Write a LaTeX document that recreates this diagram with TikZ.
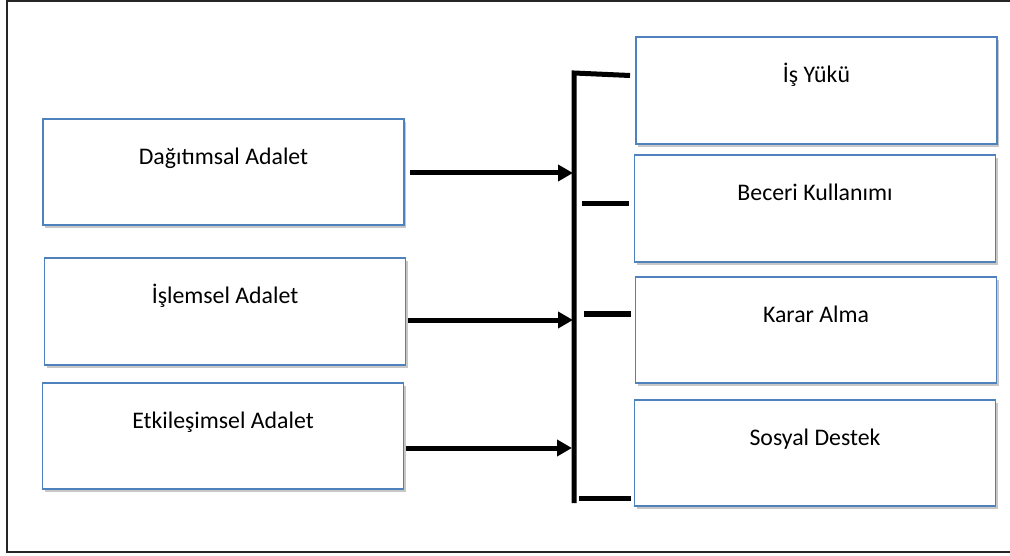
\documentclass[tikz,border=0pt]{standalone}
\usepackage{fontspec}
\setmainfont{Carlito}
\usetikzlibrary{arrows.meta,shadows}
\definecolor{boxblue}{RGB}{79,129,189}
\begin{document}
\begin{tikzpicture}[x=1pt,y=-1pt,
  box/.style={draw=boxblue,line width=1.6pt,fill=white,minimum width=361pt,minimum height=106pt,inner sep=0pt,
    drop shadow={shadow xshift=2pt,shadow yshift=-3pt,opacity=0.22,fill=black}},
  lbl/.style={font=\fontsize{23.8}{28}\selectfont,anchor=base,inner sep=0pt},
  conn/.style={line width=5pt},
  arr/.style={conn,-{Triangle[length=15pt,width=16pt]}}]
\useasboundingbox (0,0) rectangle (1010,556);
\fill[white] (0,0) rectangle (1010,556);
% frame
\draw[line width=1.8pt,black!85] (7,1) rectangle (1020,552);
% left boxes
\node[box] (d1) at (223.5,172) {};
\node[box,minimum height=107pt] (d2) at (225,311.5) {};
\node[box] (d3) at (223,436) {};
% right boxes
\node[box,minimum height=107pt] (r1) at (816.5,90.5) {};
\node[box,minimum height=107pt] (r2) at (815,208.5) {};
\node[box] (r3) at (816,330) {};
\node[box] (r4) at (815,453) {};
% labels
\node[lbl] (td1) at ([yshift=-46.5pt]d1.north) {Dağıtımsal Adalet};
\node[lbl] (td2) at ([yshift=-46.5pt]d2.north) {İşlemsel Adalet};
\node[lbl] (td3) at ([yshift=-46.5pt]d3.north) {Etkileşimsel Adalet};
\node[lbl] (tr1) at ([yshift=-46.5pt]r1.north) {İş Yükü};
\node[lbl] (tr2) at ([yshift=-46.5pt]r2.north) {Beceri Kullanımı};
\node[lbl] (tr3) at ([yshift=-46.5pt]r3.north) {Karar Alma};
\node[lbl] (tr4) at ([yshift=-46.5pt]r4.north) {Sosyal Destek};
% bar coordinates
\coordinate (btop) at (574,73);
\coordinate (bbot) at (574,503);
\coordinate (b1) at (573,173);
\coordinate (b2) at (573,320);
\coordinate (b3) at (572,448);
\coordinate (t1) at (630,75.5);
\coordinate (t2s) at (582,204);
\coordinate (t2e) at (629,204);
\coordinate (t3s) at (584,314);
\coordinate (t3e) at (631,314);
\coordinate (t4s) at (579,498);
\coordinate (t4e) at (631,498);
% bar and ticks
\draw[conn,line join=miter] (t1) -- (btop) -- (bbot);
\draw[conn] (t2s) -- (t2e);
\draw[conn] (t3s) -- (t3e);
\draw[conn] (t4s) -- (t4e);
% arrows
\draw[arr] (d1.east |- b1) ++(5,0) -- (b1);
\draw[arr] (d2.east |- b2) ++(2,0) -- (b2);
\draw[arr] (d3.east |- b3) ++(2,0) -- (b3);
\end{tikzpicture}
\end{document}
